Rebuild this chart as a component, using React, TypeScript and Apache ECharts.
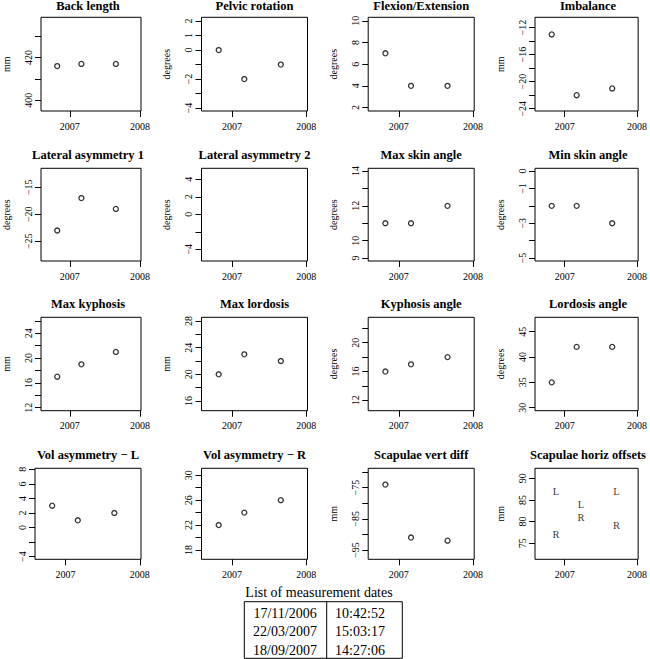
import React, { useEffect, useRef } from "react";
import * as echarts from "echarts";

const FONT = "Liberation Serif";

// Measurement list
const measurementDates = ["17/11/2006", "22/03/2007", "18/09/2007"];
const measurementTimes = ["10:42:52", "15:03:17", "14:27:06"];

const xPositions = [2006.82, 2007.165, 2007.657];
const xTickValues = [2007, 2008];
const xMin = 2006.5885;
const xMax = 2008.016;

// Panel texts
const panelTitles = [
  "Back length", "Pelvic rotation", "Flexion/Extension", "Imbalance",
  "Lateral asymmetry 1", "Lateral asymmetry 2", "Max skin angle", "Min skin angle",
  "Max kyphosis", "Max lordosis", "Kyphosis angle", "Lordosis angle",
  "Vol asymmetry \u2212 L", "Vol asymmetry \u2212 R", "Scapulae vert diff", "Scapulae horiz offsets",
];
const panelUnits = [
  "mm", "degrees", "degrees", "mm",
  "degrees", "degrees", "degrees", "degrees",
  "mm", "mm", "degrees", "degrees",
  "", "", "mm", "mm",
];

// Series values
const backLength = [416, 417, 417];
const pelvicRotation = [0, -2, -1];
const flexionExtension = [7, 4, 4];
const imbalance = [-13, -22, -21];
const lateralAsymmetry1 = [-23, -17, -19];
const lateralAsymmetry2: number[] = [];
const maxSkinAngle = [11, 11, 12];
const minSkinAngle = [-2, -2, -3];
const maxKyphosis = [17, 19, 21];
const maxLordosis = [20, 23, 22];
const kyphosisAngle = [16, 17, 18];
const lordosisAngle = [35, 42, 42];
const volAsymmetryL = [3, 1, 2];
const volAsymmetryR = [22, 24, 26];
const scapulaeVertDiff = [-74, -91, -92];
const scapulaeHorizL = [87, 84, 87];
const scapulaeHorizR = [77, 81, 79];

const panelValues: number[][] = [
  backLength, pelvicRotation, flexionExtension, imbalance,
  lateralAsymmetry1, lateralAsymmetry2, maxSkinAngle, minSkinAngle,
  maxKyphosis, maxLordosis, kyphosisAngle, lordosisAngle,
  volAsymmetryL, volAsymmetryR, scapulaeVertDiff, [],
];

// y axis extents, ticks and tick labels
const yMins = [394.9, -4.2, 1.68, -24.34, -28.65, -5.34, 8.83, -5.17, 11.52, 14.55, 10.56, 29.41, -4.36, 16.5, -97.98, 71.3];
const yMaxs = [438.9, 2.26, 10.32, -10.46, -11.48, 5.26, 14.16, 0.16, 26.58, 28.55, 23.53, 47.84, 8.14, 31.12, -68.78, 92.3];
const yTicks = [
  [400, 410, 420, 430], [-4, -3, -2, -1, 0, 1, 2], [2, 4, 6, 8, 10], [-24, -22, -20, -18, -16, -14, -12],
  [-25, -20, -15], [-4, -2, 0, 2, 4], [9, 10, 11, 12, 13, 14], [-5, -4, -3, -2, -1, 0],
  [12, 14, 16, 18, 20, 22, 24, 26], [16, 18, 20, 22, 24, 26, 28], [12, 14, 16, 18, 20, 22], [30, 35, 40, 45],
  [-4, -2, 0, 2, 4, 6, 8], [18, 20, 22, 24, 26, 28, 30], [-95, -90, -85, -80, -75, -70], [75, 80, 85, 90],
];
const yLabels = [
  [400, 420], [-4, -2, 0, 1, 2], [2, 4, 6, 8, 10], [-24, -20, -16, -12],
  [-25, -20, -15], [-4, 0, 2, 4], [9, 10, 12, 14], [-5, -3, -1, 0],
  [12, 16, 20, 24], [16, 20, 24, 28], [12, 16, 20], [30, 35, 40, 45],
  [-4, 0, 2, 4, 6, 8], [18, 22, 26, 30], [-95, -85, -75], [75, 80, 85, 90],
];

// Layout
const colLefts = [35, 201.5, 368.2, 535];
const gridWidth = 106;
const rowTops = [17.3, 168.3, 317.3, 468.3];
const rowHeights = [93.7, 92.7, 93.4, 91];

const fmt = (v: number) => String(v).replace("-", "\u2212");

function buildOption() {
  const grid: any[] = [];
  const xAxis: any[] = [];
  const yAxis: any[] = [];
  const series: any[] = [];
  const graphic: any[] = [];

  for (let i = 0; i < 16; i++) {
    const r = Math.floor(i / 4);
    const c = i % 4;
    const left = colLefts[c];
    const top = rowTops[r];
    grid.push({
      left, top, width: gridWidth, height: rowHeights[r],
      show: true, borderColor: "#000", borderWidth: 1, backgroundColor: "transparent",
      containLabel: false,
    });
    xAxis.push({
      type: "value", gridIndex: i, min: xMin, max: xMax,
      position: "bottom",
      axisLine: { show: false, onZero: false },
      axisTick: { show: true, length: 6, inside: false, customValues: xTickValues, lineStyle: { color: "#000", width: 1 } },
      axisLabel: { show: true, customValues: xTickValues, margin: 10, fontSize: 10, fontFamily: FONT, color: "#000", formatter: (v: number) => String(v) },
      splitLine: { show: false },
    });
    yAxis.push({
      type: "value", gridIndex: i, min: yMins[i], max: yMaxs[i],
      position: "left",
      axisLine: { show: false, onZero: false },
      axisTick: { show: true, length: 6, inside: false, customValues: yTicks[i], lineStyle: { color: "#000", width: 1 } },
      axisLabel: { show: true, customValues: yLabels[i], rotate: 90, margin: 8, fontSize: 10, fontFamily: FONT, color: "#000", formatter: (v: number) => fmt(v) },
      splitLine: { show: false },
      name: panelUnits[i],
      nameLocation: "middle",
      nameRotate: 90,
      nameGap: 30,
      nameTextStyle: { fontSize: 10, fontFamily: FONT, color: "#000" },
    });
    const vals = panelValues[i];
    if (vals.length) {
      series.push({
        type: "scatter", xAxisIndex: i, yAxisIndex: i,
        symbol: "circle", symbolSize: 5,
        itemStyle: { color: "rgba(0,0,0,0)", borderColor: "#000", borderWidth: 1.3 },
        data: vals.map((v, j) => [xPositions[j], v]),
        silent: true,
      });
    }
    graphic.push({
      type: "text",
      x: left + gridWidth / 2,
      y: r === 0 ? 6.4 : top - 12.9,
      style: {
        text: panelTitles[i],
        fill: "#000",
        fontSize: 12.5,
        fontWeight: "bold",
        fontFamily: FONT,
        align: "center",
        verticalAlign: "middle",
        textAlign: "center",
        textVerticalAlign: "middle",
      },
    });
  }

  const letterSeries = (vals: number[], letter: string) => ({
    type: "scatter", xAxisIndex: 15, yAxisIndex: 15,
    symbol: "circle", symbolSize: 1,
    itemStyle: { color: "rgba(0,0,0,0)" },
    label: {
      show: true, position: "inside", offset: [4.3, 0], formatter: letter,
      fontSize: 10.5, fontFamily: FONT, color: "#000", textBorderWidth: 0,
    },
    data: vals.map((v, j) => [xPositions[j], v]),
    silent: true,
  });
  series.push(letterSeries(scapulaeHorizL, "L"));
  series.push(letterSeries(scapulaeHorizR, "R"));

  // Table of measurement dates
  const tLeft = 244.3, tRight = 402.3, tTop = 601.7, tBottom = 658.3, tDiv = 326.7;
  const rowYs = [613.3, 631.7, 650];
  const txt = (x: number, y: number, text: string) => ({
    type: "text", x, y,
    style: { text, fill: "#000", fontSize: 14, fontFamily: FONT, align: "center", verticalAlign: "middle", textAlign: "center", textVerticalAlign: "middle" },
  });
  graphic.push(txt(319, 592, "List of measurement dates"));
  graphic.push({
    type: "rect", shape: { x: tLeft, y: tTop, width: tRight - tLeft, height: tBottom - tTop },
    style: { fill: "none", stroke: "#000", lineWidth: 1 },
  });
  graphic.push({
    type: "line", shape: { x1: tDiv, y1: tTop, x2: tDiv, y2: tBottom },
    style: { stroke: "#000", lineWidth: 1 },
  });
  measurementDates.forEach((d, j) => {
    graphic.push(txt((tLeft + tDiv) / 2 - 0.5, rowYs[j], d));
    graphic.push(txt((tDiv + tRight) / 2 - 4.5, rowYs[j], measurementTimes[j]));
  });

  return {
    animation: false,
    backgroundColor: "#fff",
    textStyle: { fontFamily: FONT },
    grid, xAxis, yAxis, series, graphic,
  };
}

export default function App() {
  const ref = useRef<HTMLDivElement>(null);
  useEffect(() => {
    if (!ref.current) return;
    const chart = echarts.init(ref.current, undefined, { renderer: "svg" });
    chart.setOption(buildOption() as any);
    return () => chart.dispose();
  }, []);
  return (
    <div
      ref={ref}
      style={{ position: "absolute", left: 0, top: 0, width: 650, height: 659, background: "#fff" }}
    />
  );
}
